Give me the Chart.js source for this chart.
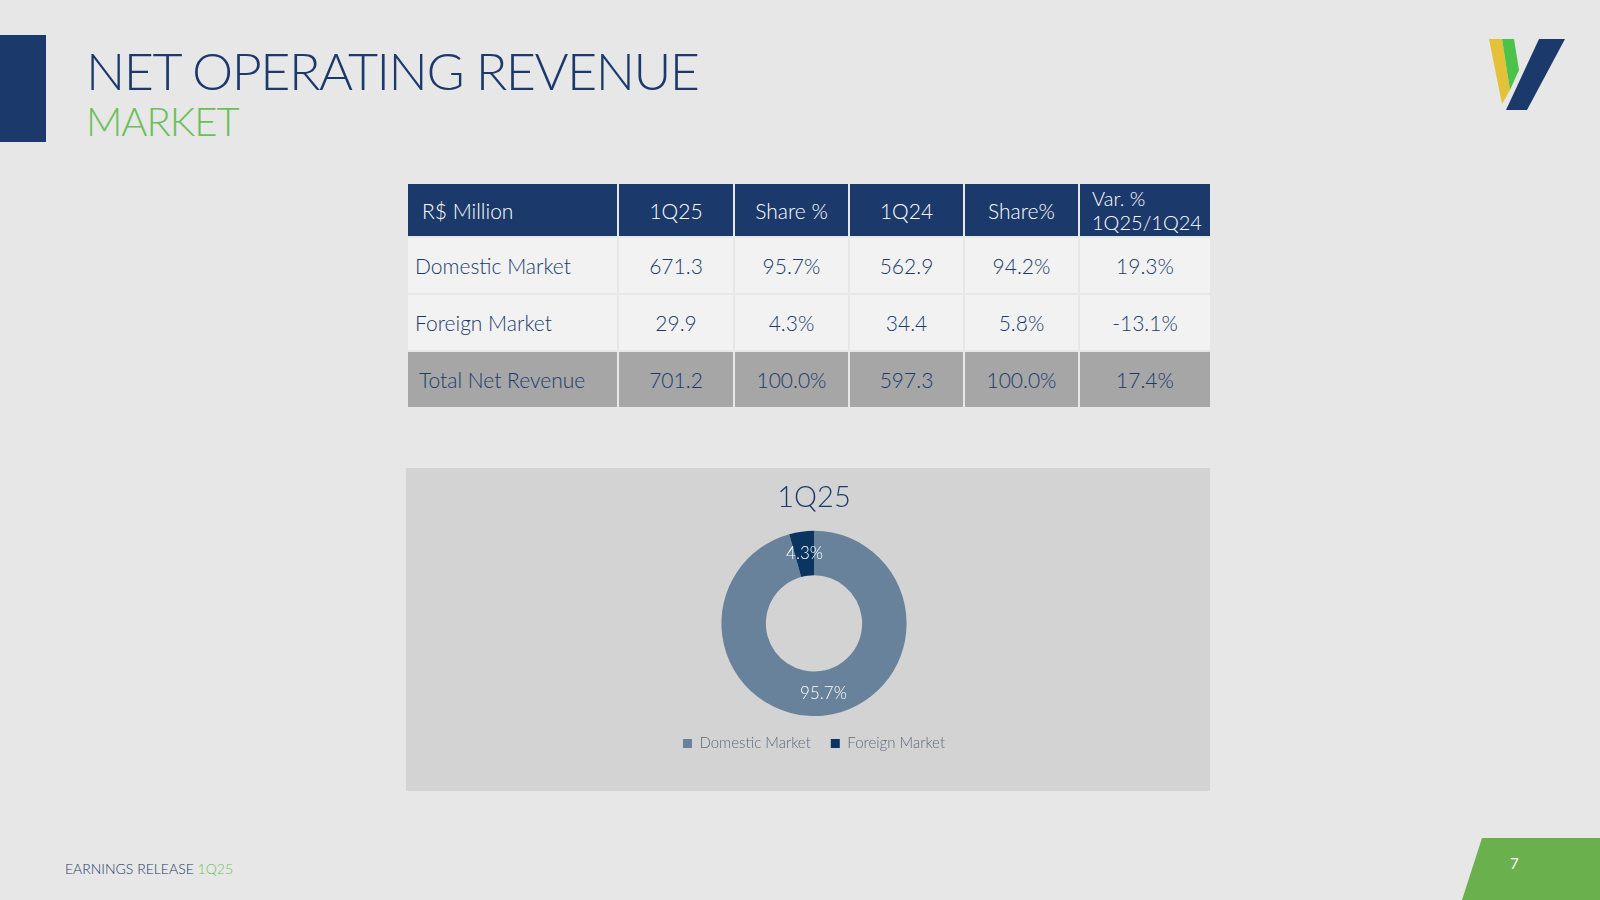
<!DOCTYPE html>
<html><head><meta charset="utf-8">
<script src="https://cdn.jsdelivr.net/npm/chart.js@4"></script>
<style>
body{margin:0;width:1600px;height:900px;background:#e7e7e7;font-family:Lato,"Open Sans",sans-serif;position:relative;overflow:hidden}
.bar{position:absolute;left:0;top:35px;width:46px;height:107px;background:#1b3a6b}
.t1{position:absolute;left:86px;top:42px;font-size:52px;font-weight:300;color:#1b3a6b;letter-spacing:-1.5px;line-height:56px}
.t2{position:absolute;left:86px;top:100px;font-size:40px;font-weight:300;color:#6bbf59;line-height:42px;letter-spacing:-1px}
table{position:absolute;left:406px;top:182px;border-collapse:collapse;table-layout:fixed;width:804px;font-size:21px;font-weight:300;color:#1b3a6b}
td{border:2px solid #e7e7e7;text-align:center;padding:0;height:55px;white-space:nowrap}
tr.h td{background:#1b3a6b;color:#fff;height:52px}
tr.r td{background:#f2f2f2}
tr.tot td{background:#a6a6a6}
.box{position:absolute;left:406px;top:468px;width:804px;height:323px;background:#d3d3d3}
.foot{position:absolute;left:65px;top:860px;font-size:14px;color:#1b3a6b;font-weight:300}
.foot span{color:#6bbf59}
.pn{position:absolute;left:1510px;top:854px;font-size:15px;color:#fff}
</style></head><body>
<div class="bar"></div>
<div class="t1">NET OPERATING REVENUE</div>
<div class="t2">MARKET</div>
<svg style="position:absolute;left:0;top:0" width="1600" height="900">
<polygon points="1489,39 1502,39 1510,90 1502,104" fill="#e3c23a"/>
<polygon points="1502,39 1514,39 1519,70 1510,90" fill="#4cc24a"/>
<polygon points="1539,39 1565,39 1527,110 1506,110" fill="#1b3a6b"/>
<polygon points="1482,838 1600,838 1600,900 1462,900" fill="#6ab04c"/>
</svg>
<table>
<colgroup><col style="width:211px"><col style="width:116px"><col style="width:115px"><col style="width:115px"><col style="width:115px"><col style="width:132px"></colgroup>
<tr class="h"><td style="text-align:left;padding-left:14px">R$ Million</td><td>1Q25</td><td>Share %</td><td>1Q24</td><td>Share%</td><td style="line-height:24px;font-size:20px;text-align:left;padding-left:12px">Var. %<br>1Q25/1Q24</td></tr>
<tr class="r"><td style="text-align:left;padding-left:7px">Domestic Market</td><td>671.3</td><td>95.7%</td><td>562.9</td><td>94.2%</td><td>19.3%</td></tr>
<tr class="r"><td style="text-align:left;padding-left:7px">Foreign Market</td><td>29.9</td><td>4.3%</td><td>34.4</td><td>5.8%</td><td>-13.1%</td></tr>
<tr class="tot"><td style="text-align:left;padding-left:11px">Total Net Revenue</td><td>701.2</td><td>100.0%</td><td>597.3</td><td>100.0%</td><td>17.4%</td></tr>
</table>
<div class="box"><canvas id="c" width="804" height="323"></canvas></div>
<div class="foot">EARNINGS RELEASE <span>1Q25</span></div>
<div class="pn">7</div>
<script>
const categories=["Domestic Market","Foreign Market"];
const shares=[95.7,4.3];
const colors=["#68829b","#0b3560"];
const chartTitle="1Q25";
const labelPlugin={id:"lbl",afterDatasetsDraw(ch){const ctx=ch.ctx;const meta=ch.getDatasetMeta(0);ctx.save();ctx.fillStyle="#fff";ctx.font="300 17px Lato";ctx.textAlign="center";ctx.textBaseline="middle";
meta.data.forEach((a,i)=>{const mid=(a.startAngle+a.endAngle)/2;const r=(a.innerRadius+a.outerRadius)/2;let x=a.x+Math.cos(mid)*r,y=a.y+Math.sin(mid)*r;ctx.fillText(shares[i].toFixed(1)+"%",x,y);});ctx.restore();}};
new Chart(document.getElementById("c"),{type:"doughnut",data:{labels:categories,datasets:[{data:shares,backgroundColor:colors,borderWidth:0}]},
options:{responsive:false,animation:false,cutout:"52%",layout:{padding:{bottom:30,left:12}},
plugins:{title:{display:true,text:chartTitle,color:"#1b3a6b",font:{family:"Lato",size:29,weight:"300"},padding:{top:12,bottom:16}},
legend:{position:"bottom",labels:{boxWidth:9,boxHeight:9,color:"#5a6b80",font:{family:"Lato",size:15,weight:"300"},padding:20}},tooltip:{enabled:false}}},plugins:[labelPlugin]});
</script>
</body></html>
